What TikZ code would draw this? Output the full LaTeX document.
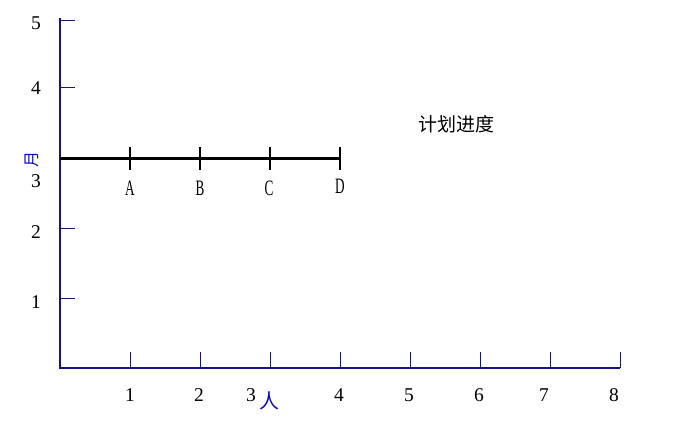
\documentclass[tikz,border=0pt]{standalone}
\usepackage{fontspec}
\setmainfont{Liberation Serif}
\newfontfamily\cjk{Noto Sans CJK SC}
\newfontfamily\narrowserif[FakeStretch=0.6]{Liberation Serif}
\definecolor{axisblue}{RGB}{20,20,130}
\definecolor{labblue}{RGB}{10,10,190}
\tikzset{
  axisline/.style={draw=axisblue, line width=1.1pt},
  ticky/.style={draw=axisblue, line width=1pt},
  num/.style={font=\fontsize{19.5}{19.5}\selectfont, text=black, inner sep=0pt},
  letter/.style={font=\narrowserif\fontsize{22}{22}\selectfont, text=black, inner sep=0pt},
  axlab/.style={font=\cjk\fontsize{16}{16}\selectfont, text=labblue, inner sep=0pt},
  planline/.style={draw=black, line width=3pt},
  plantick/.style={draw=black, line width=1.8pt}
}
\begin{document}
\begin{tikzpicture}[x=1pt,y=-1pt]
\useasboundingbox (0,0) rectangle (687,425);
% axes
\coordinate (O) at (60,368);
\coordinate (ytop) at (60,18);
\coordinate (xend) at (620,368);
\draw[axisline] (ytop) -- (O) -- (xend);
% y ticks
\foreach \v/\y in {1/298,2/228,4/88,5/21}{
  \coordinate (yt\v) at (60,\y);
  \coordinate (yte\v) at (75,\y);
  \draw[ticky] (yt\v) -- (yte\v);
}
% x ticks
\foreach \i in {1,...,8}{
  \coordinate (xt\i) at (60+70*\i,368);
  \coordinate (xte\i) at (60+70*\i,352);
  \draw[ticky] (xt\i) -- (xte\i);
}
% y labels
\node[num] (yl5) at (36,23) {5};
\node[num] (yl4) at (36,88) {4};
\node[num] (yl3) at (36,181) {3};
\node[num] (yl2) at (36,232) {2};
\node[num] (yl1) at (36,302) {1};
\node[axlab, rotate=90] (yname) at (32,159) {月};
% x labels
\node[num] (xl1) at (130,395) {1};
\node[num] (xl2) at (199,395) {2};
\node[num] (xl3) at (251,395) {3};
\node[num] (xl4) at (339,395) {4};
\node[num] (xl5) at (409,395) {5};
\node[num] (xl6) at (479,395) {6};
\node[num] (xl7) at (544,395) {7};
\node[num] (xl8) at (614,395) {8};
\node[axlab, font=\cjk\fontsize{20}{20}\selectfont] (xname) at (269,401) {人};
% plan line
\coordinate (pstart) at (60,158);
\coordinate (pend) at (340,158);
\draw[planline] (pstart) -- (pend);
\foreach \n/\x in {A/130,B/200,C/270,D/340}{
  \coordinate (pt\n) at (\x,147);
  \coordinate (pb\n) at (\x,170);
  \draw[plantick] (pt\n) -- (pb\n);
}
\node[letter] (lA) at (130,188) {A};
\node[letter] (lB) at (200,188) {B};
\node[letter] (lC) at (269,188) {C};
\node[letter] (lD) at (340,186) {D};
\node[font=\cjk\fontsize{19}{19}\selectfont, inner sep=0pt] (title) at (456,124) {计划进度};
\end{tikzpicture}
\end{document}
